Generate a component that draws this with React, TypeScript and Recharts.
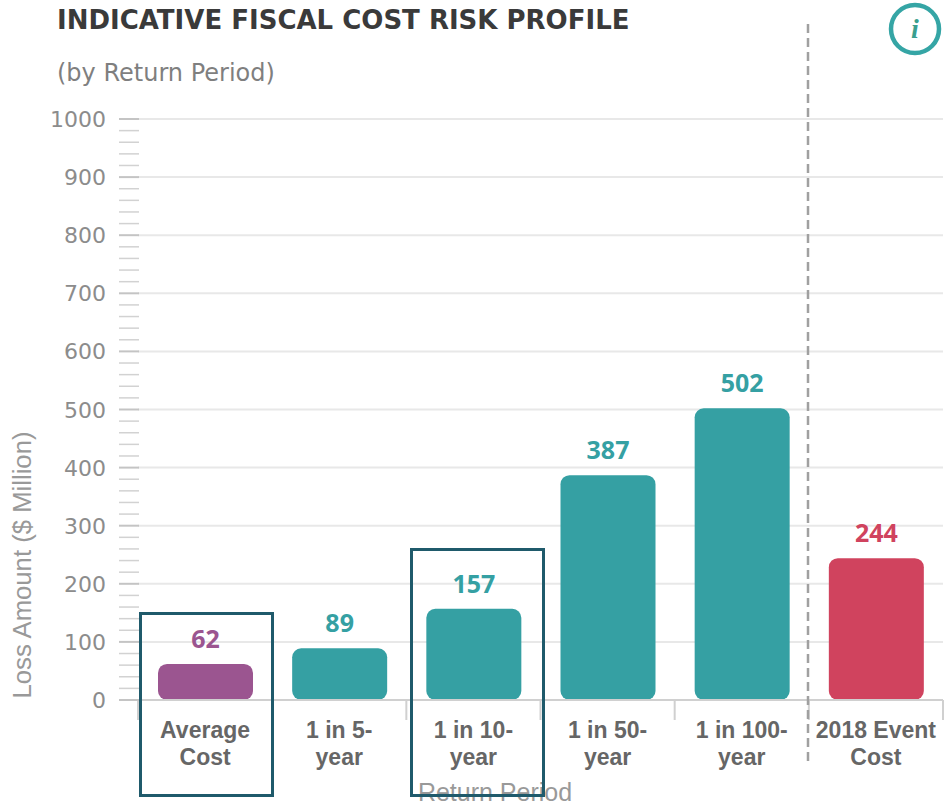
import React from "react";
import { BarChart, Bar, XAxis, YAxis, CartesianGrid, Cell, LabelList } from "recharts";

const categories = ["Average\nCost", "1 in 5-\nyear", "1 in 10-\nyear", "1 in 50-\nyear", "1 in 100-\nyear", "2018 Event\nCost"];
const lossValues = [62, 89, 157, 387, 502, 244];
const barColors = ["#9b5590", "#35a0a3", "#35a0a3", "#35a0a3", "#35a0a3", "#d0435e"];
const labelColors = ["#9b5590", "#35a0a3", "#35a0a3", "#35a0a3", "#35a0a3", "#d0435e"];
const majorTicks = [0, 100, 200, 300, 400, 500, 600, 700, 800, 900, 1000];
const minorTicks = [20, 40, 60, 80, 120, 140, 160, 180, 220, 240, 260, 280, 320, 340, 360, 380, 420, 440, 460, 480, 520, 540, 560, 580, 620, 640, 660, 680, 720, 740, 760, 780, 820, 840, 860, 880, 920, 940, 960, 980];

const data = categories.map((category, i) => ({ category, value: lossValues[i], fill: barColors[i], labelFill: labelColors[i] }));
const allTicks = [...majorTicks, ...minorTicks].sort((a, b) => a - b);
const BAND = 805 / 6;
const NUM_FONT = "'DejaVu Sans', sans-serif";
const ARIAL = "'Liberation Sans', Arial, sans-serif";

const YTick = (props: any) => {
  const { x, y, payload } = props;
  const major = majorTicks.includes(payload.value);
  return (
    <g>
      <line x1={x - 19} x2={x + 1} y1={y} y2={y} stroke={major ? "#c4c4c4" : "#d2d2d2"} strokeWidth={major ? 2 : 1.5} />
      {major && (
        <text x={x - 32} y={y} dy={8} textAnchor="end" fontFamily={NUM_FONT} fontSize={22} fill="#8c8c8c">
          {payload.value}
        </text>
      )}
    </g>
  );
};

const XTick = (props: any) => {
  const { x, payload, index } = props;
  const lines = String(payload.value).split("\n");
  const top = 700;
  return (
    <g>
      <line x1={x - BAND / 2} x2={x - BAND / 2} y1={top} y2={top + 20} stroke="#d0d0d0" strokeWidth={2} />
      {index === categories.length - 1 && (
        <line x1={x + BAND / 2} x2={x + BAND / 2} y1={top} y2={top + 20} stroke="#d0d0d0" strokeWidth={2} />
      )}
      {lines.map((l, i) => (
        <text key={i} x={x} y={top + 38 + i * 27} textAnchor="middle" fontFamily={ARIAL} fontWeight={700} fontSize={23} fill="#666666">
          {l}
        </text>
      ))}
    </g>
  );
};

const ValueLabel = (props: any) => {
  const { x, y, width, value, index } = props;
  return (
    <text x={x + width / 2} y={y - 16} textAnchor="middle" fontFamily="'Noto Sans', sans-serif" fontWeight={700} fontSize={25} fill={labelColors[index]}>
      {value}
    </text>
  );
};

export default function App() {
  return (
    <div style={{ position: "absolute", left: 0, top: 0, width: 944, height: 805, background: "#fff", overflow: "hidden" }}>
      <BarChart width={944} height={805} data={data} margin={{ top: 119, right: 1, bottom: 0, left: 0 }} barSize={95}>
        <CartesianGrid horizontal vertical={false} horizontalValues={majorTicks} stroke="#e8e8e8" strokeWidth={2} />
        <XAxis dataKey="category" interval={0} tick={XTick} tickLine={false} axisLine={{ stroke: "#d0d0d0", strokeWidth: 2 }} height={105} />
        <YAxis type="number" domain={[0, 1000]} ticks={allTicks} interval={0} width={138} tick={YTick} tickLine={false} tickSize={0} tickMargin={0} axisLine={false} />
        <Bar dataKey="value" radius={9} isAnimationActive={false}>
          {data.map((d, i) => (
            <Cell key={i} fill={d.fill} />
          ))}
          <LabelList dataKey="value" content={ValueLabel} />
        </Bar>
      </BarChart>
      <svg width={944} height={805} style={{ position: "absolute", left: 0, top: 0, pointerEvents: "none" }}>
        <text x={57} y={29} fontFamily={NUM_FONT} fontWeight={700} fontSize={26} fill="#3a3a3a">INDICATIVE FISCAL COST RISK PROFILE</text>
        <text x={57} y={81} fontFamily={NUM_FONT} fontSize={24} fill="#7f7f7f">(by Return Period)</text>
        <text x={495} y={801} textAnchor="middle" fontFamily={ARIAL} fontSize={25} fill="#999999">Return Period</text>
        <text transform="translate(31,565) rotate(-90)" textAnchor="middle" fontFamily={ARIAL} fontSize={25.7} fill="#999999">Loss Amount ($ Million)</text>
        <line x1={808} x2={808} y1={24} y2={765} stroke="#a0a0a0" strokeWidth={2.5} strokeDasharray="9 5" />
        <rect x={140.5} y={613.5} width={132} height={182} fill="none" stroke="#1f5a6b" strokeWidth={3} />
        <rect x={411.5} y={549.5} width={132} height={246} fill="none" stroke="#1f5a6b" strokeWidth={3} />
        <circle cx={915} cy={29} r={24} fill="#fff" stroke="#35a5a5" strokeWidth={4.5} />
        <text x={915} y={38} textAnchor="middle" fontFamily="'Liberation Serif', serif" fontStyle="italic" fontWeight={700} fontSize={28} fill="#3a9f8f">i</text>
      </svg>
    </div>
  );
}
